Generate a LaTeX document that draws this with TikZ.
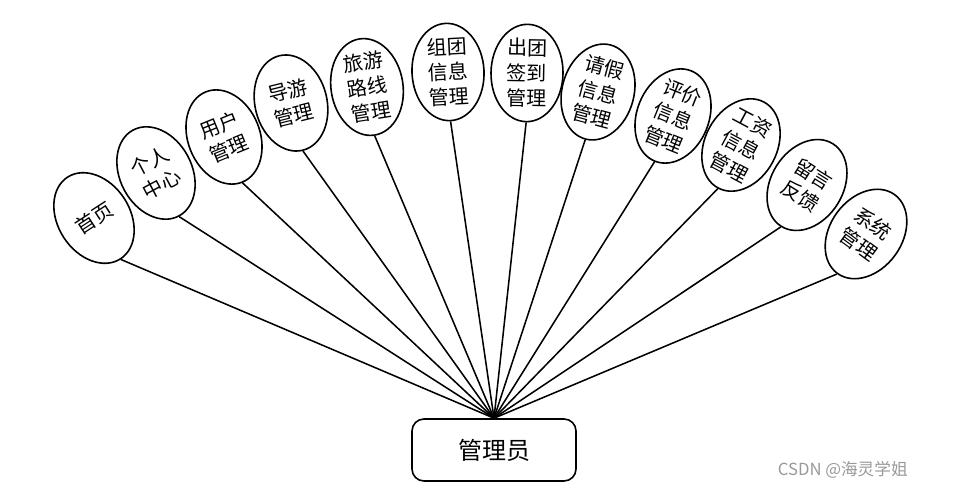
\documentclass[tikz,border=0pt]{standalone}
\usepackage{fontspec}
\setmainfont{Noto Sans CJK SC}
\usetikzlibrary{shapes.geometric}
\begin{document}
\begin{tikzpicture}[x=0.75pt,y=-0.75pt,
  oval/.style={ellipse, draw, line width=1.2pt, minimum width=54pt, minimum height=73pt, inner sep=0pt},
  lbl/.style={align=center, font=\fontsize{15}{19}\selectfont, inner sep=0pt},
  link/.style={line width=1.15pt},
  box/.style={draw, rounded corners=9pt, line width=1.2pt, minimum width=123pt, minimum height=46.5pt, font=\fontsize{18}{20}\selectfont},
  wmark/.style={text=black!40, font=\fontsize{12.5}{14}\selectfont, inner sep=0pt}]
\useasboundingbox (0,0) rectangle (956,492);
\node[box] (admin) at (494,450) {管理员};
\foreach \n/\x/\y/\a/\t in {
  e1/94/218/33/{首页},
  e2/156/173/28/{个人\\中心},
  e3/224/137/22/{用户\\管理},
  e4/291/103/14/{导游\\管理},
  e5/367/87/9/{旅游\\路线\\管理},
  e6/448/72/3/{组团\\信息\\管理},
  e7/527/73/-1/{出团\\签到\\管理},
  e8/598/92/-15/{请假\\信息\\管理},
  e9/673/116/-22/{评价\\信息\\管理},
  e10/741/145/-28/{工资\\信息\\管理},
  e11/807/185/-32/{留言\\反馈},
  e12/866/234/-36/{系统\\管理}}{
  \node[oval, rotate=\a] (\n) at (\x,\y) {};
  \node[lbl, rotate=\a] (\n t) at (\n) {\t};
  \draw[link] (\n.south) -- (admin.north);
}
\node[wmark, anchor=east] (wm) at (908,470) {CSDN @海灵学姐};
\end{tikzpicture}
\end{document}
